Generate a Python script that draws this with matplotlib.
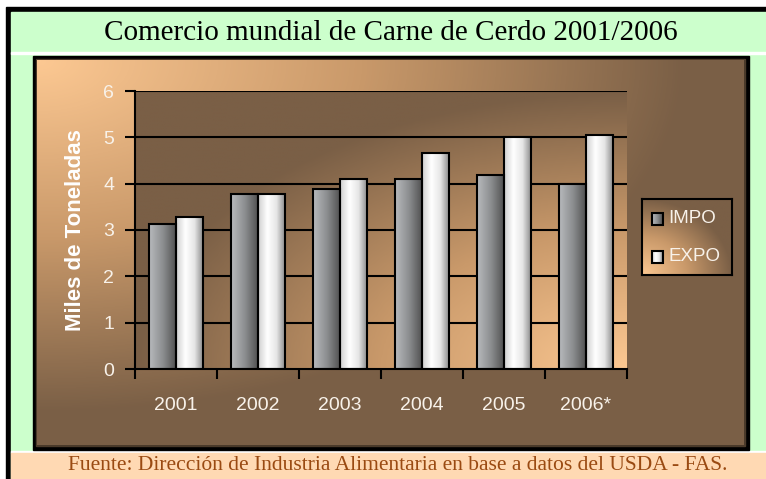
import numpy as np
import matplotlib
matplotlib.use("Agg")
import matplotlib.pyplot as plt
from matplotlib.patches import Rectangle
from matplotlib.colors import LinearSegmentedColormap

# data
years = ['2001', '2002', '2003', '2004', '2005', '2006*']
impo = [3.13, 3.78, 3.88, 4.10, 4.18, 4.00]
expo = [3.28, 3.78, 4.10, 4.66, 5.00, 5.05]
series = ['IMPO', 'EXPO']

W, H = 766, 479
PEACH = '#fcc892'
BROWN = '#7a5f46'
brown_cmap = LinearSegmentedColormap.from_list('bg', [PEACH, '#c9996a', BROWN])
impo_cmap = LinearSegmentedColormap.from_list('impo', ['#b8babd', '#8c8e90', '#4e4e4e'])
expo_cmap = LinearSegmentedColormap.from_list('expo', ['#cfcfcf', '#ffffff', '#e6e6e6', '#858585'])

fig = plt.figure(figsize=(W / 100, H / 100), dpi=100, facecolor='white')

# page layout in pixel coords
bg = fig.add_axes([0, 0, 1, 1])
bg.set_xlim(0, W)
bg.set_ylim(H, 0)
bg.axis('off')
bg.add_patch(Rectangle((6, 7), W - 6, H - 7, color='black'))
bg.add_patch(Rectangle((11, 12), W - 11, H - 12, color='#ccffcc'))
bg.add_patch(Rectangle((11, 52), W - 11, 2, color='white'))
bg.add_patch(Rectangle((11, 451), W - 11, 2, color='white'))
bg.add_patch(Rectangle((11, 453), W - 11, H - 453, color='#ffd9b3'))
bg.add_patch(Rectangle((33, 56), 716, 394, color='black'))
bg.add_patch(Rectangle((36, 59), 709, 387, color='#4a3a2a'))

# chart area gradient, peach in the top-left corner
gx, gy = np.meshgrid(np.linspace(0, 1, 200), np.linspace(0, 1, 120))
t = np.clip(np.sqrt(gx ** 2 + gy ** 2) / 0.92, 0, 1)
bg.imshow(t, cmap=brown_cmap, extent=(37, 744, 445, 60), aspect='auto',
          interpolation='bilinear', zorder=2)
bg.set_xlim(0, W)
bg.set_ylim(H, 0)

bg.text(W / 2 + 8, 33, 'Comercio mundial de Carne de Cerdo 2001/2006',
        ha='center', va='center', fontsize=21, family='Liberation Serif', color='black')
bg.text(398, 466, 'Fuente: Dirección de Industria Alimentaria en base a datos del USDA - FAS.',
        ha='center', va='center', fontsize=15.5, family='Liberation Serif', color='#9a4a12')

# plot area
ax = fig.add_axes([135 / W, 1 - 369 / H, (627 - 135) / W, (369 - 91) / H])
ax.set_facecolor('none')
x = np.arange(len(years))
bw = 0.33
ax.set_xlim(-0.5, len(years) - 0.5)
ax.set_ylim(0, 6)

# plot area gradient, peach in the bottom-right corner
pt = np.clip(np.sqrt((1 - gx) ** 2 + gy ** 2) / 1.0, 0, 1)
ax.imshow(pt, cmap=brown_cmap, extent=(-0.5, len(years) - 0.5, 0, 6), aspect='auto',
          interpolation='bilinear', zorder=0, origin='lower')

for yv in range(1, 7):
    ax.axhline(yv, color='black', lw=1.5, zorder=1)

grad = np.linspace(0, 1, 100).reshape(1, -1)
for vals, off, cm in [(impo, -bw / 2, impo_cmap), (expo, bw / 2, expo_cmap)]:
    bars = ax.bar(x + off, vals, bw, color='none', edgecolor='black', lw=1.5, zorder=3)
    for b in bars:
        im = ax.imshow(grad, cmap=cm, aspect='auto', zorder=2, interpolation='bilinear',
                       extent=(b.get_x(), b.get_x() + b.get_width(), 0, b.get_height()))
        im.set_clip_path(b)

ax.set_xlim(-0.5, len(years) - 0.5)
ax.set_ylim(0, 6)

for s in ['top', 'right']:
    ax.spines[s].set_visible(False)
for s in ['left', 'bottom']:
    ax.spines[s].set_linewidth(1.5)
    ax.spines[s].set_zorder(4)

ax.set_yticks(range(0, 7))
ax.tick_params(axis='y', direction='out', length=7, width=1.5, colors='black',
               labelcolor='#f8f2ea', labelsize=14, pad=8)
ax.set_xticks(x)
ax.set_xticklabels(years)
ax.set_xticks(np.arange(-0.5, len(years)), minor=True)
ax.tick_params(axis='x', which='major', length=0, labelcolor='#f8f2ea', labelsize=14, pad=20)
ax.tick_params(axis='x', which='minor', direction='out', length=7, width=1.5, color='black')
for lab in ax.get_xticklabels() + ax.get_yticklabels():
    lab.set_family('Liberation Sans')

ax.set_ylabel('Miles de Toneladas', fontsize=16, fontweight='bold', color='white',
              family='Liberation Sans', labelpad=12)

# legend box
lg = fig.add_axes([642 / W, 1 - 275 / H, 90 / W, 76 / H])
lg.set_xlim(0, 1)
lg.set_ylim(0, 1)
lg.imshow(np.clip(np.sqrt(gx ** 2 + (1 - gy) ** 2), 0, 1), cmap=brown_cmap,
          extent=(0, 1, 0, 1), aspect='auto', interpolation='bilinear', zorder=0)
lg.set_xticks([])
lg.set_yticks([])
for s in lg.spines.values():
    s.set_linewidth(1.5)
for i, (name, cm) in enumerate(zip(series, [impo_cmap, expo_cmap])):
    yc = 0.74 - i * 0.5
    lg.imshow(grad, cmap=cm, aspect='auto', interpolation='bilinear', zorder=2,
              extent=(0.11, 0.23, yc - 0.08, yc + 0.08))
    lg.add_patch(Rectangle((0.11, yc - 0.08), 0.12, 0.16, fill=False, lw=1.5,
                           edgecolor='black', zorder=3))
    lg.text(0.29, yc, name, va='center', ha='left', fontsize=13.5, color='#f8f2ea',
            family='Liberation Sans')
lg.set_xlim(0, 1)
lg.set_ylim(0, 1)

fig.savefig('out.png', dpi=100, facecolor=fig.get_facecolor())
